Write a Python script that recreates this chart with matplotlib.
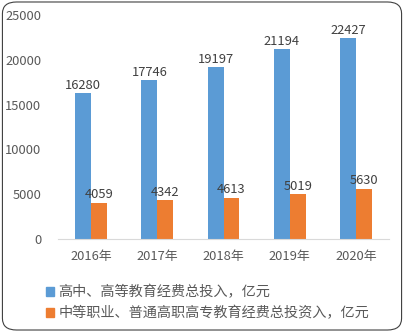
import numpy as np
import matplotlib.pyplot as plt
from matplotlib.patches import FancyBboxPatch, Patch

plt.rcParams['font.family'] = ['Noto Sans CJK SC', 'DejaVu Sans']

years = ['2016年', '2017年', '2018年', '2019年', '2020年']
higher = [16280, 17746, 19197, 21194, 22427]
vocational = [4059, 4342, 4613, 5019, 5630]
labels = ['高中、高等教育经费总投入，亿元', '中等职业、普通高职高专教育经费总投资入，亿元']

blue = '#5B9BD5'
orange = '#ED7D31'
grey = '#595959'

fig = plt.figure(figsize=(4.04, 3.32), dpi=100)
ax = fig.add_axes([0.1436, 0.280, 0.8194, 0.675])

x = np.arange(len(years))
w = 0.24
b1 = ax.bar(x - w / 2, higher, w, color=blue)
b2 = ax.bar(x + w / 2, vocational, w, color=orange)
for bars in (b1, b2):
    for r in bars:
        ax.text(r.get_x() + r.get_width() / 2, r.get_height() + 150, str(int(r.get_height())),
                ha='center', va='bottom', fontsize=9.3, color='#404040')

ax.set_xlim(-0.5, len(years) - 0.5)
ax.set_ylim(0, 25000)
ax.set_yticks(range(0, 25001, 5000))
ax.set_xticks(x)
ax.set_xticklabels(years)
ax.tick_params(length=0, labelsize=9.3, colors=grey)
ax.tick_params(axis='y', pad=12)
ax.tick_params(axis='x', pad=8)
for s in ['top', 'right', 'left']:
    ax.spines[s].set_visible(False)
ax.spines['bottom'].set_color('#D9D9D9')

handles = [Patch(color=blue), Patch(color=orange)]
fig.legend(handles, labels, loc='upper left', bbox_to_anchor=(0.082, 0.18),
           frameon=False, prop={'size': 10.2}, handlelength=0.55, handleheight=0.55,
           handletextpad=0.35, labelspacing=0.5, labelcolor=grey)

border = FancyBboxPatch((0.006, 0.006), 0.988, 0.988, boxstyle='round,pad=0,rounding_size=0.035',
                        transform=fig.transFigure, fill=False, edgecolor='#404040', linewidth=0.8)
fig.patches.append(border)

fig.savefig('out.png', dpi=100)
